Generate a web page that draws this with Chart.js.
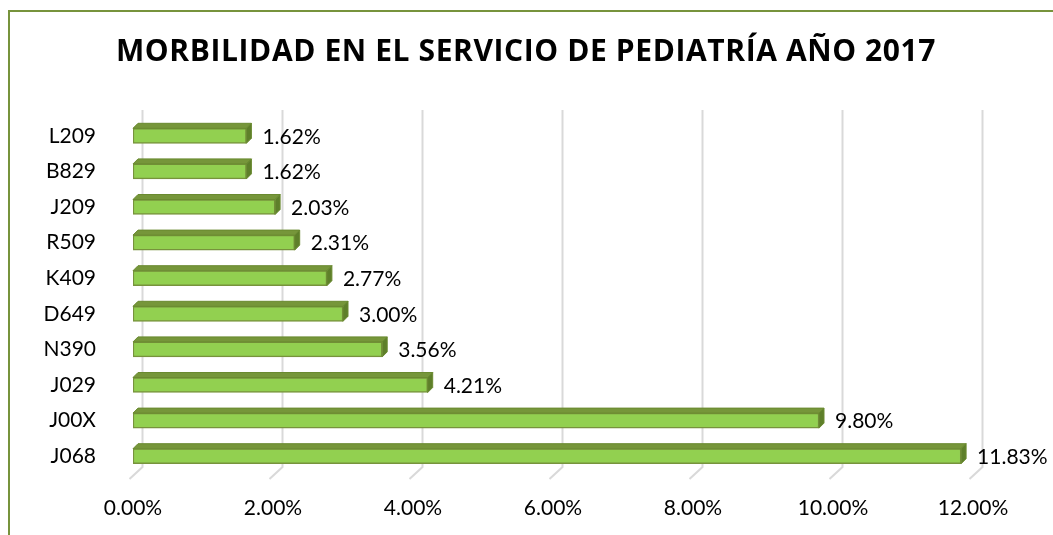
<!DOCTYPE html>
<html>
<head>
<meta charset="utf-8">
<script src="https://cdn.jsdelivr.net/npm/chart.js@4"></script>
<style>
html,body{margin:0;padding:0;background:#fff;}
#c{display:block;}
</style>
</head>
<body>
<canvas id="c" width="1053" height="535"></canvas>
<script>
const titleText = 'MORBILIDAD EN EL SERVICIO DE PEDIATRÍA AÑO 2017';
const categories = ['L209','B829','J209','R509','K409','D649','N390','J029','J00X','J068'];
const values = [1.62,1.62,2.03,2.31,2.77,3.00,3.56,4.21,9.80,11.83];
const xTicks = [0,2,4,6,8,10,12];

const FONT = 'Lato';
const DEPTH = 5;

const decor = {
  id: 'decor',
  beforeDraw(chart) {
    const ctx = chart.ctx;
    ctx.save();
    ctx.fillStyle = '#fff';
    ctx.fillRect(0, 0, chart.width, chart.height);
    ctx.strokeStyle = '#77933C';
    ctx.lineWidth = 2;
    ctx.beginPath();
    ctx.moveTo(9, chart.height);
    ctx.lineTo(9, 11);
    ctx.lineTo(chart.width, 11);
    ctx.stroke();
    ctx.fillStyle = '#000';
    ctx.font = 'bold 30px "Open Sans"';
    if ('letterSpacing' in ctx) ctx.letterSpacing = '0.6px';
    ctx.textAlign = 'center';
    ctx.textBaseline = 'middle';
    ctx.fillText(titleText, 526, 52);
    ctx.restore();
  },
  beforeDatasetsDraw(chart) {
    const ctx = chart.ctx;
    const xs = chart.scales.x;
    const area = chart.chartArea;
    ctx.save();
    ctx.strokeStyle = '#d9d9d9';
    ctx.lineWidth = 2;
    xTicks.forEach(v => {
      const px = xs.getPixelForValue(v);
      ctx.beginPath();
      ctx.moveTo(px + 9.5, area.top - 8);
      ctx.lineTo(px + 9.5, area.bottom - 7);
      ctx.lineTo(px - 3.5, area.bottom + 5);
      ctx.stroke();
    });
    ctx.restore();
  },
  afterDatasetsDraw(chart) {
    const ctx = chart.ctx;
    const meta = chart.getDatasetMeta(0);
    ctx.save();
    meta.data.forEach((bar, i) => {
      const p = bar.getProps(['x', 'y', 'base', 'height'], true);
      const top = p.y - p.height / 2;
      const bot = p.y + p.height / 2;
      ctx.beginPath();
      ctx.moveTo(p.base, top);
      ctx.lineTo(p.base + DEPTH, top - DEPTH);
      ctx.lineTo(p.x + DEPTH, top - DEPTH);
      ctx.lineTo(p.x, top);
      ctx.closePath();
      ctx.fillStyle = '#76963A';
      ctx.fill();
      ctx.strokeStyle = '#6A8A30';
      ctx.lineWidth = 1;
      ctx.stroke();
      ctx.beginPath();
      ctx.moveTo(p.x, top);
      ctx.lineTo(p.x + DEPTH, top - DEPTH);
      ctx.lineTo(p.x + DEPTH, bot - DEPTH);
      ctx.lineTo(p.x, bot);
      ctx.closePath();
      ctx.fillStyle = '#5E7F2A';
      ctx.fill();
      ctx.stroke();
      ctx.fillStyle = '#000';
      ctx.font = '21px ' + FONT;
      ctx.textAlign = 'left';
      ctx.textBaseline = 'middle';
      ctx.fillText(values[i].toFixed(2) + '%', p.x + 16, p.y + 1);
    });
    ctx.restore();
  }
};

new Chart(document.getElementById('c'), {
  type: 'bar',
  data: {
    labels: categories,
    datasets: [{
      data: values,
      backgroundColor: '#92D050',
      borderColor: '#77933C',
      borderWidth: 1.5,
      barThickness: 15,
      borderSkipped: false
    }]
  },
  options: {
    indexAxis: 'y',
    responsive: false,
    animation: false,
    devicePixelRatio: 1,
    layout: { padding: { left: 10, right: 80, top: 118, bottom: 15 } },
    plugins: {
      legend: { display: false },
      title: { display: false },
      tooltip: { enabled: false }
    },
    scales: {
      x: {
        min: 0,
        max: 12,
        afterBuildTicks(scale) { scale.ticks = xTicks.map(v => ({ value: v })); },
        afterFit(scale) { scale.height = 46; },
        grid: { display: false, drawTicks: false },
        border: { display: false },
        ticks: {
          padding: 22,
          color: '#000',
          font: { family: FONT, size: 21 },
          callback: v => Number(v).toFixed(2) + '%'
        }
      },
      y: {
        afterFit(scale) { scale.width = 123; },
        grid: { display: false, drawTicks: false },
        border: { display: false },
        ticks: {
          padding: 37,
          color: '#000',
          font: { family: FONT, size: 21 }
        }
      }
    }
  },
  plugins: [decor]
});
</script>
</body>
</html>
